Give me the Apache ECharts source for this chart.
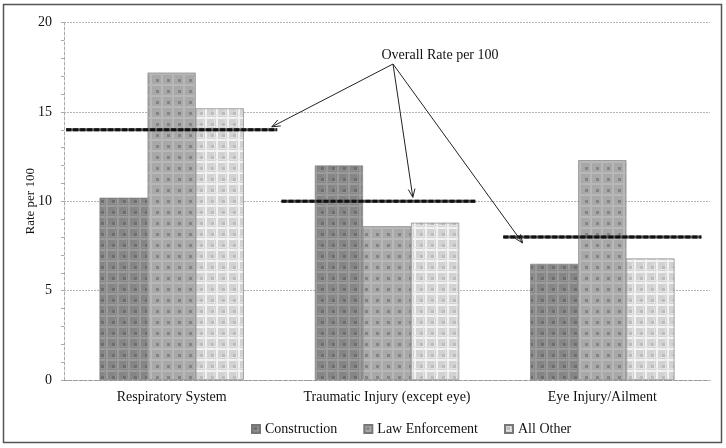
<!DOCTYPE html>
<html>
<head>
<meta charset="utf-8">
<script src="https://cdn.jsdelivr.net/npm/echarts@6/dist/echarts.min.js"></script>
<style>
  html, body { margin: 0; padding: 0; background: #fff; }
  #chart { width: 726px; height: 448px; }
</style>
</head>
<body>
<div id="chart"></div>
<script>
const categories = ['Respiratory System', 'Traumatic Injury (except eye)', 'Eye Injury/Ailment']
const construction = [10.2, 12.0, 6.5]
const lawEnforcement = [17.2, 8.6, 12.3]
const allOther = [15.2, 8.8, 6.8]
const overallRate = [14.0, 10.0, 8.0]
// where each overall line starts/ends inside its category (fraction of slot)
const overallSpan = [[0.01, 0.99], [0.01, 0.91], [0.04, 0.96]]
const yTicks = [0, 5, 10, 15, 20]

const FONT = '"Liberation Serif", "DejaVu Serif", serif'

// plaid tile patterns like the old office fills
function plaid(base, line, dot, light) {
  const c = document.createElement('canvas')
  c.width = 11
  c.height = 11
  const g = c.getContext('2d')
  g.fillStyle = base
  g.fillRect(0, 0, 11, 11)
  g.fillStyle = line
  g.fillRect(0, 7, 11, 2)
  g.fillRect(7, 0, 2, 11)
  g.fillStyle = dot
  g.fillRect(2, 2, 3, 3)
  if (light) {
    g.fillStyle = light
    g.fillRect(0, 5, 11, 1)
    g.fillRect(5, 0, 1, 11)
  }
  return { image: c, repeat: 'repeat' }
}

const patConstruction = plaid('#858585', '#9c9c9c', '#6e6e6e', '#929292')
const patLaw = plaid('#a8a8a8', '#b8b8b8', '#848484')
const patOther = plaid('#d2d2d2', '#f2f2f2', '#bcbcbc', '#e2e2e2')

// overall rate segments on a hidden 0..3 value axis
const overallData = []
overallRate.forEach((v, i) => {
  if (i > 0) overallData.push('-')
  overallData.push([i + overallSpan[i][0], v], [i + overallSpan[i][1], v])
})

const chart = echarts.init(document.getElementById('chart'))

const barBase = {
  type: 'bar',
  barGap: '0%',
  barCategoryGap: '33%',
  itemStyle: { borderColor: '#777', borderWidth: 0.6 },
}

chart.setOption({
  animation: false,
  textStyle: { fontFamily: FONT },
  grid: { left: 64, right: 16, top: 22.6, bottom: 68 },
  legend: {
    left: 246,
    bottom: 7,
    itemWidth: 8,
    itemHeight: 8,
    itemGap: 26,
    icon: 'rect',
    textStyle: { fontFamily: FONT, fontSize: 14, color: '#111' },
    data: ['Construction', 'Law Enforcement', 'All Other'],
  },
  xAxis: [
    {
      type: 'category',
      data: categories,
      axisLine: { lineStyle: { color: '#999', type: [3, 2] } },
      axisTick: { show: false },
      axisLabel: { interval: 0, fontFamily: FONT, fontSize: 14, color: '#111', margin: 10 },
    },
    {
      type: 'value',
      min: 0,
      max: 3,
      show: false,
    },
  ],
  yAxis: {
    type: 'value',
    min: 0,
    max: 20,
    interval: 5,
    name: 'Rate per 100',
    nameLocation: 'middle',
    nameGap: 27,
    nameMoveOverlap: false,
    nameTextStyle: { fontFamily: FONT, fontSize: 13, color: '#111' },
    axisLine: { show: true, lineStyle: { color: '#aaa', type: [3, 2] } },
    axisTick: { show: true, length: 3, lineStyle: { color: '#aaa' } },
    minorTick: { show: true, splitNumber: 5, length: 3, lineStyle: { color: '#aaa' } },
    axisLabel: {
      fontFamily: FONT,
      fontSize: 14,
      color: '#111',
      margin: 12,
      formatter: (v) => (yTicks.includes(v) ? String(v) : ''),
    },
    splitLine: { lineStyle: { color: '#b5b5b5', type: [2, 1], width: 1 } },
  },
  series: [
    { ...barBase, name: 'Construction', data: construction, itemStyle: { ...barBase.itemStyle, color: patConstruction } },
    { ...barBase, name: 'Law Enforcement', data: lawEnforcement, itemStyle: { ...barBase.itemStyle, color: patLaw } },
    { ...barBase, name: 'All Other', data: allOther, itemStyle: { ...barBase.itemStyle, color: patOther } },
    {
      name: 'Overall base',
      type: 'line',
      xAxisIndex: 1,
      data: overallData,
      symbol: 'none',
      lineStyle: { color: '#555', width: 3 },
      z: 5,
      silent: true,
    },
    {
      name: 'Overall',
      type: 'line',
      xAxisIndex: 1,
      data: overallData,
      symbol: 'none',
      lineStyle: { color: '#111', width: 3, type: [5, 2] },
      z: 6,
      silent: true,
    },
  ],
})

// annotation: label with arrows pointing to each overall line
const labelPos = [393, 64]
const arrowTargets = [
  [0.965, overallRate[0], -3],
  [1.62, overallRate[1], -4],
  [2.13, overallRate[2], 6],
]

function arrowGraphic(from, to) {
  const dx = to[0] - from[0]
  const dy = to[1] - from[1]
  const ang = Math.atan2(dy, dx)
  const h = 9
  const spread = 0.38
  const p1 = [to[0] - h * Math.cos(ang - spread), to[1] - h * Math.sin(ang - spread)]
  const p2 = [to[0] - h * Math.cos(ang + spread), to[1] - h * Math.sin(ang + spread)]
  return [
    { type: 'line', shape: { x1: from[0], y1: from[1], x2: to[0], y2: to[1] }, style: { stroke: '#222', lineWidth: 1 }, z: 20 },
    { type: 'polyline', shape: { points: [p1, to, p2] }, style: { stroke: '#222', lineWidth: 1, fill: null }, z: 20 },
  ]
}

const graphics = [
  {
    type: 'rect',
    shape: { x: 3.5, y: 4.5, width: 718, height: 438 },
    style: { fill: null, stroke: '#555', lineWidth: 1.5 },
    z: 0,
    silent: true,
  },
  {
    type: 'text',
    x: 440,
    y: 55,
    style: { text: 'Overall Rate per 100', font: '14px ' + FONT, fill: '#111', textAlign: 'center', textVerticalAlign: 'middle' },
    z: 20,
  },
]
arrowTargets.forEach(([xv, yv, off]) => {
  const p = chart.convertToPixel({ xAxisIndex: 1, yAxisIndex: 0 }, [xv, yv])
  graphics.push(...arrowGraphic(labelPos, [p[0], p[1] + off]))
})

chart.setOption({ graphic: graphics })
</script>
</body>
</html>
